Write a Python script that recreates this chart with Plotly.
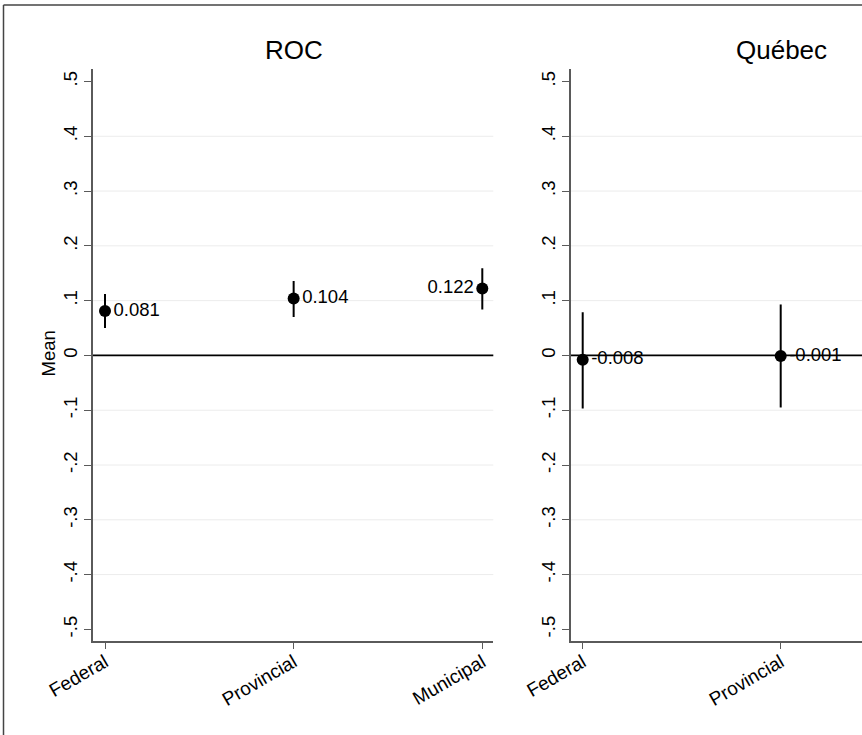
import plotly.graph_objects as go

# Government levels and estimated means with 95% confidence bounds
levels = ["Federal", "Provincial", "Municipal"]

roc_mean = [0.081, 0.104, 0.122]
roc_lo = [0.050, 0.070, 0.084]
roc_hi = [0.112, 0.136, 0.159]

qc_mean = [-0.008, -0.001]
qc_lo = [-0.097, -0.095]
qc_hi = [0.079, 0.093]

ytick_vals = [-0.5, -0.4, -0.3, -0.2, -0.1, 0.0, 0.1, 0.2, 0.3, 0.4, 0.5]
ytick_text = ["-.5", "-.4", "-.3", "-.2", "-.1", "0", ".1", ".2", ".3", ".4", ".5"]
grid_vals = [-0.4, -0.3, -0.2, -0.1, 0.1, 0.2, 0.3, 0.4]

FONT = "Liberation Sans, Arial, Helvetica, sans-serif"
W, H = 862, 735
AXIS_GREY = "#5a5a5a"


def px_x(p):
    return p / W


def px_y(p):
    return 1 - p / H


def panel(mean, lo, hi, positions, xaxis, yaxis):
    xs = list(range(len(mean)))
    return go.Scatter(
        x=xs,
        y=mean,
        xaxis=xaxis,
        yaxis=yaxis,
        mode="markers+text",
        marker=dict(color="black", size=12),
        text=[f"{v:.3f}" for v in mean],
        textposition=positions,
        textfont=dict(family=FONT, size=18.5, color="black"),
        error_y=dict(
            type="data",
            symmetric=False,
            array=[h - m for h, m in zip(hi, mean)],
            arrayminus=[m - l for m, l in zip(mean, lo)],
            color="black",
            thickness=2,
            width=0,
        ),
        showlegend=False,
        cliponaxis=False,
    )


fig = go.Figure()
fig.add_trace(panel(roc_mean, roc_lo, roc_hi,
                    ["middle right", "middle right", "middle left"], "x", "y"))
fig.add_trace(panel(qc_mean, qc_lo, qc_hi,
                    ["middle right", "middle right"], "x2", "y2"))

y_dom = [px_y(641), px_y(69.3)]
y_rng = [-0.5212, 0.5222]

common_x = dict(
    showline=True, linecolor=AXIS_GREY, linewidth=1.5,
    ticks="outside", ticklen=6, tickwidth=1.2, tickcolor=AXIS_GREY,
    tickangle=-30, tickfont=dict(family=FONT, size=19, color="black"),
    ticklabelstandoff=-5,
    showgrid=False, zeroline=False, automargin=False,
    tickvals=[0, 1, 2], ticktext=levels,
)
common_y = dict(
    showline=True, linecolor=AXIS_GREY, linewidth=1.5,
    ticks="outside", ticklen=7, tickwidth=1.2, tickcolor=AXIS_GREY,
    tickangle=-90, tickfont=dict(family=FONT, size=18.5, color="black"),
    showgrid=False, zeroline=False, automargin=False,
    tickvals=ytick_vals, ticktext=ytick_text,
    range=y_rng, domain=y_dom,
)

fig.update_layout(
    width=W, height=H,
    margin=dict(l=0, r=0, t=0, b=0),
    paper_bgcolor="white", plot_bgcolor="white",
    template="none",
    font=dict(family=FONT, color="black"),
    xaxis=dict(common_x, domain=[px_x(92.7), px_x(493.3)], range=[-0.0652, 2.0583]),
    yaxis=dict(common_y, anchor="x"),
    xaxis2=dict(common_x, domain=[px_x(570.7), 1.0], range=[-0.0606, 1.4106], anchor="y2"),
    yaxis2=dict(common_y, anchor="x2"),
)

shapes = []
# light horizontal grid and the black reference line at zero
for xr, yr in (("x domain", "y"), ("x2 domain", "y2")):
    for g in grid_vals:
        shapes.append(dict(type="line", xref=xr, yref=yr, x0=0, x1=1, y0=g, y1=g,
                           line=dict(color="#ececec", width=1), layer="below"))
    shapes.append(dict(type="line", xref=xr, yref=yr, x0=0, x1=1, y0=0, y1=0,
                       line=dict(color="black", width=1.6), layer="below"))

# outer frame of the combined graph
shapes.append(dict(type="line", xref="paper", yref="paper",
                   x0=px_x(3.5), x1=px_x(3.5), y0=px_y(5), y1=-0.05,
                   line=dict(color="#444444", width=1.5)))
shapes.append(dict(type="line", xref="paper", yref="paper",
                   x0=px_x(3.5), x1=1.05, y0=px_y(5), y1=px_y(5),
                   line=dict(color="#444444", width=1.5)))
fig.update_layout(shapes=shapes)

annotations = [
    dict(text="ROC", x=px_x(293.5), y=px_y(50), xref="paper", yref="paper",
         xanchor="center", yanchor="middle", showarrow=False,
         font=dict(family=FONT, size=26, color="black")),
    dict(text="Québec", x=px_x(781.5), y=px_y(50), xref="paper", yref="paper",
         xanchor="center", yanchor="middle", showarrow=False,
         font=dict(family=FONT, size=26, color="black")),
    dict(text="Mean", x=px_x(47.5), y=px_y(354), xref="paper", yref="paper",
         xanchor="center", yanchor="middle", textangle=-90, showarrow=False,
         font=dict(family=FONT, size=18.5, color="black")),
]
fig.update_layout(annotations=annotations)

fig.write_html("out.html")
